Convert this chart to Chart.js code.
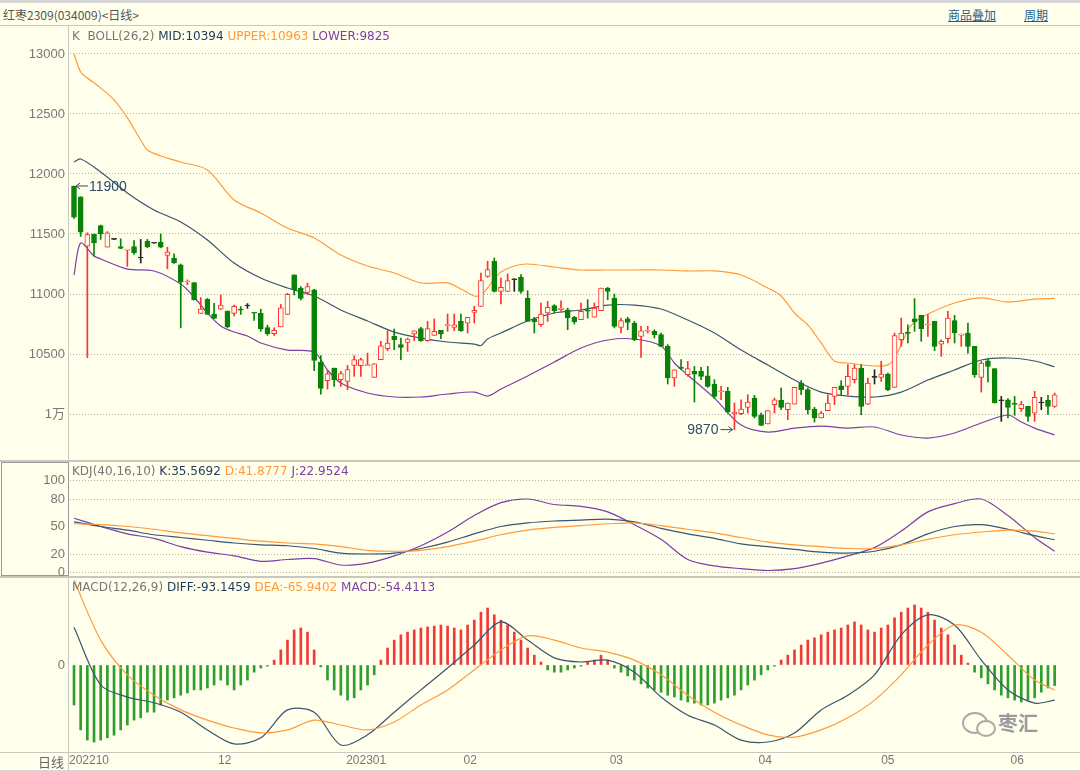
<!DOCTYPE html>
<html>
<head>
<meta charset="utf-8">
<title>红枣2309 日线</title>
<script src="https://cdn.jsdelivr.net/npm/chart.js@4.4.1/dist/chart.umd.min.js"></script>
<style>
  body { margin: 0; background: #ffffec; }
  #wrap { position: relative; width: 1080px; height: 772px; background: #ffffec; overflow: hidden;
          font-family: "DejaVu Sans", "Noto Sans CJK SC", sans-serif; }
  canvas { position: absolute; left: 0; }
  .ln { position: absolute; background: #c8c8c0; }
  .txt { position: absolute; font-size: 12px; white-space: nowrap; color: #777; }
  .link { color: #1f5f8f; text-decoration: underline; font-family: "Noto Sans CJK SC", sans-serif; }
  .mid { color: #1f3a5a; } .up { color: #ff9a3c; } .low { color: #7a3fa8; }
</style>
</head>
<body>
<div id="wrap">
  <div class="ln" style="left:0;top:0;width:1080px;height:3px;background:#d6d6d6"></div>
  <div class="ln" style="left:0;top:25px;width:1080px;height:1px"></div>
  <div class="ln" style="left:68px;top:26px;width:1px;height:746px"></div>
  <div class="ln" style="left:0;top:460px;width:1080px;height:2px"></div>
  <div class="ln" style="left:0;top:576px;width:1080px;height:2px"></div>
  <div class="ln" style="left:0;top:752px;width:1080px;height:1px"></div>
  <div class="ln" style="left:0;top:770px;width:1080px;height:2px;background:#d6d6d6"></div>
  <div style="position:absolute;left:1px;top:462px;width:66px;height:112px;border:1px solid #999"></div>

  <div class="txt" style="left:3px;top:6px;color:#555;font-family:'Noto Sans CJK SC',sans-serif">红枣2309(034009)&lt;日线&gt;</div>
  <div class="txt link" style="left:948px;top:6px">商品叠加</div>
  <div class="txt link" style="left:1024px;top:6px">周期</div>

  <canvas id="mainChart" style="top:26px" width="1080" height="434"></canvas>
  <canvas id="kdjChart" style="top:462px" width="1080" height="114"></canvas>
  <canvas id="macdChart" style="top:578px" width="1080" height="194"></canvas>

  <div class="txt" style="left:72px;top:29px">K&nbsp; BOLL(26,2) <span class="mid">MID:10394</span> <span class="up">UPPER:10963</span> <span class="low">LOWER:9825</span></div>
  <div class="txt" style="left:72px;top:464px">KDJ(40,16,10) <span class="mid">K:35.5692</span> <span class="up">D:41.8777</span> <span class="low">J:22.9524</span></div>
  <div class="txt" style="left:72px;top:580px">MACD(12,26,9) <span class="mid">DIFF:-93.1459</span> <span class="up">DEA:-65.9402</span> <span class="low">MACD:-54.4113</span></div>
  <div class="txt" style="left:38px;top:752px;font-size:13px;color:#666;font-family:'Noto Sans CJK SC',sans-serif">日线</div>

  <div style="position:absolute;left:962px;top:712px;width:22px;height:18px;border:2px solid #aaa;border-radius:50%"></div>
  <div style="position:absolute;left:976px;top:720px;width:16px;height:13px;border:2px solid #aaa;border-radius:50%;background:#ffffec"></div>
  <div class="txt" style="left:998px;top:708px;font-size:20px;font-weight:bold;color:#9a9a9a;text-shadow:0 0 2px #fff;font-family:'Noto Sans CJK SC',sans-serif">枣汇</div>
</div>

<script>
// daily candles, oldest first
const candleOpen = [11900,11810,11398,11500,11570,11390,11455,11395,11365,11395,11300,11440,11423,11432,11322,11300,11244,11100,11095,10838,
  10955,10832,10874,10858,10838,10875,10900,10846,10840,10720,10670,10726,10830,11160,11048,11014,11034,10432,10278,10383,
  10286,10272,10405,10403,10403,10306,10453,10545,10647,10578,10597,10667,10711,10611,10656,10697,10736,10722,10772,10758,
  10847,10897,11147,11272,11022,11022,11119,11139,10967,10794,10744,10842,10903,10869,10869,10806,10786,10864,10806,10861,
  11050,10967,10722,10794,10758,10647,10690,10689,10661,10564,10300,10389,10328,10355,10355,10319,10250,10186,10189,10000,
  10003,10056,10133,9994,9917,10078,10114,10036,10083,10258,10203,10042,9967,10028,10147,10236,10231,10286,10383,10083,
  10306,10306,10333,10222,10619,10678,10794,10822,10742,10772,10583,10628,10778,10658,10675,10564,10306,10444,10378,10111,
  10119,10086,10044,10064,10008,10092,10114,10064];
const candleHigh = [11900,11810,11510,11500,11575,11520,11458,11460,11370,11445,11455,11455,11425,11500,11390,11335,11250,11118,11095,10970,
  10963,10922,10992,10860,10908,10895,10920,10846,10874,10740,10718,10913,11006,11160,11062,11090,11040,10488,10362,10383,
  10355,10405,10486,10467,10508,10420,10605,10694,10708,10633,10633,10694,10722,10772,10792,10697,10833,10833,10833,10806,
  10897,11175,11272,11300,11133,11167,11128,11161,11028,10806,10925,10939,10911,10944,10883,10814,10925,10953,10925,11050,
  11055,11000,10800,10806,10772,10731,10731,10703,10675,10578,10369,10453,10439,10397,10389,10397,10286,10231,10222,10092,
  10119,10161,10156,10008,10028,10133,10217,10092,10222,10278,10217,10056,10022,10161,10222,10278,10411,10411,10411,10300,
  10369,10439,10342,10675,10800,10744,10961,10822,10828,10772,10619,10856,10822,10667,10758,10564,10439,10461,10378,10147,
  10128,10147,10106,10064,10189,10139,10156,10175];
const candleLow = [11630,11480,10470,11315,11455,11390,11452,11378,11230,11330,11258,11385,11421,11385,11210,11255,10718,11078,10950,10838,
  10830,10796,10870,10720,10818,10830,10880,10780,10690,10656,10656,10726,10830,10992,10950,10997,10362,10166,10208,10230,
  10230,10203,10314,10314,10403,10305,10453,10528,10536,10453,10522,10611,10606,10606,10656,10628,10689,10694,10689,10675,
  10758,10897,11139,11017,10917,11022,11022,11008,10772,10675,10731,10772,10842,10856,10703,10750,10786,10800,10806,10861,
  10953,10717,10675,10703,10611,10472,10675,10633,10564,10250,10231,10369,10314,10100,10286,10222,10128,10119,10008,9870,
  9994,10008,9967,9906,9917,10008,10036,9953,10083,10161,10000,9933,9967,10028,10078,10161,10161,10258,9994,10078,
  10250,10272,10194,10222,10564,10592,10689,10606,10647,10528,10481,10592,10592,10564,10508,10306,10183,10267,10092,9939,
  9967,9989,10022,9939,9939,10036,9994,10056];
const candleClose = [11640,11515,11496,11425,11500,11510,11455,11380,11370,11345,11300,11393,11423,11390,11350,11258,11098,11108,10950,10874,
  10830,10796,10908,10726,10897,10866,10900,10840,10712,10670,10698,10885,10998,11034,10964,11062,10446,10214,10334,10286,
  10336,10370,10453,10453,10411,10419,10569,10592,10620,10556,10625,10694,10611,10711,10689,10667,10739,10744,10694,10806,
  10864,11111,11203,11022,11056,11111,11119,11022,10772,10767,10833,10889,10861,10883,10800,10767,10856,10858,10883,11050,
  11022,10731,10778,10764,10619,10694,10697,10661,10564,10300,10369,10380,10378,10333,10314,10231,10147,10189,10017,10017,
  10042,10100,9980,9906,10028,10119,10056,10092,10222,10203,10036,9967,10008,10092,10222,10203,10314,10383,10064,10258,
  10306,10333,10203,10653,10675,10672,10767,10711,10744,10564,10606,10800,10675,10661,10564,10328,10425,10397,10092,10111,
  10056,10081,10083,9981,10139,10092,10064,10161];

// BOLL(26,2) at these candle positions
const upperIdx = [0,1,2,4,6,8,10,11,13,16,20,24,28,32,36,40,44,48,52,56,58,60,61,62,63,64,66,68,72,76,80,84,88,92,96,100,104,106,108,110,112,114,116,120,122,123,124,125,126,128,132,136,140,144,147];
const upperVal = [13000,12850,12800,12717,12617,12467,12283,12200,12150,12100,12033,11783,11675,11550,11467,11325,11233,11175,11092,11092,11042,10983,10992,11050,11125,11183,11233,11250,11225,11200,11200,11200,11200,11192,11192,11158,11050,10983,10842,10742,10592,10442,10425,10400,10410,10467,10575,10700,10767,10833,10925,10967,10933,10958,10963];
const midIdx = [0,1,4,8,12,16,20,24,28,32,36,40,44,48,52,56,60,61,62,64,68,72,76,80,84,88,92,96,100,104,108,112,116,120,124,128,132,136,140,144,147];
const midVal = [12100,12125,12017,11842,11700,11600,11450,11258,11133,11050,10983,10867,10775,10683,10633,10600,10583,10570,10625,10675,10775,10842,10867,10908,10908,10875,10783,10675,10533,10408,10283,10183,10150,10142,10183,10283,10367,10450,10467,10442,10394];
const lowerIdx = [0,1,3,4,8,12,16,18,20,22,24,26,28,32,36,38,40,44,48,52,56,60,62,64,68,72,76,80,84,88,90,92,96,100,104,108,112,116,120,124,128,132,136,140,142,144,147];
const lowerVal = [11158,11425,11317,11292,11208,11192,11083,10975,10842,10733,10683,10650,10592,10533,10517,10367,10258,10175,10142,10142,10167,10183,10150,10208,10317,10433,10550,10617,10625,10567,10425,10325,10133,9908,9850,9883,9900,9883,9892,9825,9800,9842,9925,9992,9933,9883,9825];

// KDJ(40,16,10) and MACD(12,26,9) lines, read every 4 candles
const lineIdx = [0,4,8,12,16,20,24,28,32,36,40,44,48,52,56,60,64,68,72,76,80,84,88,92,96,100,104,108,112,116,120,124,128,132,136,140,144,147];
const kdjK = [55,50,46,41,38,35,32,30,29,26,21,20,21,26,33,42,50,54,56,57,58,55,48,42,37,31,28,25,22,21,23,30,42,50,52,47,40,35.57];
const kdjD = [53,52,50,47,43,40,37,34,32,31,28,24,23,24,28,34,41,46,49,51,53,54,51,47,43,38,33,30,28,26,26,30,36,41,44,46,45,41.88];
const kdjJ = [59,50,42,37,28,22,18,12,14,15,8,10,18,29,44,62,76,80,74,72,66,52,36,14,7,4,2,4,10,18,27,45,66,75,80,62,38,22.95];
const macdDiff = [100,-53,-85,-100,-125,-172,-209,-193,-119,-125,-212,-185,-125,-66,-8,53,114,66,19,8,13,-19,-85,-133,-159,-199,-204,-180,-119,-80,-26,80,133,106,13,-66,-101,-93.15];
const macdDea = [225,66,-26,-80,-119,-146,-167,-180,-172,-146,-159,-172,-151,-106,-66,-13,40,77,66,45,34,13,-26,-80,-125,-159,-185,-191,-172,-140,-93,-26,53,106,87,26,-40,-65.94];
const macdHist = [-106,-172,-199,-204,-199,-193,-186,-172,-159,-146,-140,-125,-125,-106,-93,-87,-80,-74,-66,-66,
  -61,-53,-40,-53,-66,-53,-40,-19,-8,-3,13,40,66,93,98,87,40,-5,-40,-66,
  -80,-93,-87,-66,-53,-26,13,45,66,80,87,93,98,101,103,106,103,98,93,106,
  119,140,151,133,119,106,87,66,45,26,8,-13,-19,-19,-13,-8,-3,8,13,26,
  13,-8,-19,-29,-40,-50,-61,-66,-72,-80,-85,-93,-98,-101,-106,-106,-101,-93,-87,-80,
  -66,-53,-40,-26,-13,-3,13,26,40,53,66,72,80,87,93,98,106,114,106,93,
  87,98,106,125,140,151,159,151,140,119,98,80,53,26,5,-19,-34,-50,-66,-80,
  -87,-93,-98,-93,-87,-72,-61,-54.41];

const monthIdx = [2.25, 22.6, 43.8, 59.4, 81.3, 103.6, 122, 141.4];
const monthLbl = ['202210', '12', '202301', '02', '03', '04', '05', '06'];
const priceTicks = [10000, 10500, 11000, 11500, 12000, 12500, 13000];
const kdjTicks = [0, 20, 50, 80, 100];

const bg = '#ffffec';
const upColor = '#ff3030', downColor = '#0a820a', flatColor = '#222222';
const midColor = '#3a5570', upperColor = '#ff9a3c', lowerColor = '#7a3fa8';

Chart.defaults.font.family = 'Liberation Sans, Noto Sans CJK SC, sans-serif';
Chart.defaults.animation = false;

const candleColor = candleOpen.map((o, i) => candleClose[i] > o ? upColor : candleClose[i] < o ? downColor : flatColor);
const bodyFill = candleOpen.map((o, i) => candleClose[i] > o ? bg : candleColor[i]);
const pts = (idx, vals) => idx.map((x, i) => ({ x, y: vals[i] }));

function xAxis(show) {
  return {
    type: 'linear', min: -0.6, max: 150.8, display: show, position: 'bottom', offset: false,
    afterFit: s => { s.paddingLeft = 0; s.paddingRight = 0; if (show) s.height = 20; },
    afterBuildTicks: s => { s.ticks = monthIdx.map(v => ({ value: v })); },
    grid: { display: false, drawTicks: false, offset: false },
    border: { display: false },
    ticks: { autoSkip: false, maxRotation: 0, padding: 1, color: '#777', font: { size: 12 },
             callback: (v, i) => monthLbl[i] }
  };
}

function yAxis(min, max, ticks, label, gridOn) {
  return {
    position: 'left', min, max,
    afterFit: s => { s.width = 70; s.paddingTop = 0; s.paddingBottom = 0; },
    afterBuildTicks: s => { s.ticks = ticks.map(v => ({ value: v })); },
    grid: { drawTicks: false, color: gridOn || '#b4b4aa' },
    border: { display: false, dash: [1, 2] },
    ticks: { padding: 5, color: '#777', font: { size: 13 }, callback: label }
  };
}

function lineSet(data, color, yID) {
  return { type: 'line', data, borderColor: color, borderWidth: 1.2, pointRadius: 0,
           tension: 0.3, yAxisID: yID, order: 2 };
}

const baseOpts = {
  responsive: false,
  layout: { padding: 0 },
  plugins: { legend: { display: false }, tooltip: { enabled: false } },
  events: []
};

// 11900 / 9870 marks on the extreme candles
const extremeMarks = {
  id: 'extremeMarks',
  afterDatasetsDraw(chart) {
    const { ctx, scales: { x, y } } = chart;
    const hi = Math.max(...candleHigh), lo = Math.min(...candleLow);
    const hx = x.getPixelForValue(candleHigh.indexOf(hi)), hy = y.getPixelForValue(hi);
    const lx = x.getPixelForValue(candleLow.indexOf(lo)), ly = y.getPixelForValue(lo);
    ctx.save();
    ctx.strokeStyle = ctx.fillStyle = '#2f4c68';
    ctx.lineWidth = 1;
    ctx.font = '14px Liberation Sans';
    ctx.textBaseline = 'middle';
    // arrow pointing left to the high
    ctx.beginPath();
    ctx.moveTo(hx + 2, hy); ctx.lineTo(hx + 14, hy);
    ctx.moveTo(hx + 2, hy); ctx.lineTo(hx + 6, hy - 3);
    ctx.moveTo(hx + 2, hy); ctx.lineTo(hx + 6, hy + 3);
    ctx.stroke();
    ctx.textAlign = 'left';
    ctx.fillText(String(hi), hx + 15, hy + 1);
    // arrow pointing right to the low
    ctx.beginPath();
    ctx.moveTo(lx - 14, ly); ctx.lineTo(lx - 2, ly);
    ctx.moveTo(lx - 2, ly); ctx.lineTo(lx - 6, ly - 3);
    ctx.moveTo(lx - 2, ly); ctx.lineTo(lx - 6, ly + 3);
    ctx.stroke();
    ctx.textAlign = 'right';
    ctx.fillText(String(lo), lx - 16, ly + 1);
    ctx.restore();
  }
};

new Chart(document.getElementById('mainChart'), {
  type: 'bar',
  data: {
    datasets: [
      { type: 'bar', data: candleOpen.map((o, i) => ({ x: i, y: [o, candleClose[i]] })),
        backgroundColor: bodyFill, borderColor: candleColor, borderWidth: 1, borderSkipped: false,
        barThickness: 5, minBarLength: 1, grouped: false, yAxisID: 'y', order: 0 },
      { type: 'bar', data: candleLow.map((l, i) => ({ x: i, y: [l, candleHigh[i]] })),
        backgroundColor: candleColor, borderWidth: 0, barThickness: 1, grouped: false, yAxisID: 'y', order: 1 },
      lineSet(pts(upperIdx, upperVal), upperColor, 'y'),
      lineSet(pts(midIdx, midVal), midColor, 'y'),
      lineSet(pts(lowerIdx, lowerVal), lowerColor, 'y')
    ]
  },
  options: {
    ...baseOpts,
    scales: {
      x: xAxis(false),
      y: yAxis(9617, 13233, priceTicks, v => v === 10000 ? '1万' : String(v))
    }
  },
  plugins: [extremeMarks]
});

new Chart(document.getElementById('kdjChart'), {
  type: 'line',
  data: {
    datasets: [
      lineSet(pts(lineIdx, kdjD), upperColor, 'y'),
      lineSet(pts(lineIdx, kdjK), midColor, 'y'),
      lineSet(pts(lineIdx, kdjJ), lowerColor, 'y')
    ]
  },
  options: {
    ...baseOpts,
    scales: {
      x: xAxis(false),
      y: yAxis(-4, 120.4, kdjTicks, v => String(v),
               c => c.tick && c.tick.value === 50 ? 'transparent' : '#b4b4aa')
    }
  }
});

new Chart(document.getElementById('macdChart'), {
  type: 'bar',
  data: {
    datasets: [
      { type: 'bar', data: macdHist.map((v, i) => ({ x: i, y: v })),
        backgroundColor: macdHist.map(v => v >= 0 ? '#f03a3a' : '#2e9e2e'),
        barThickness: 2, grouped: false, yAxisID: 'y', order: 3 },
      lineSet(pts(lineIdx, macdDea), upperColor, 'y'),
      lineSet(pts(lineIdx, macdDiff), midColor, 'y')
    ]
  },
  options: {
    ...baseOpts,
    scales: {
      x: xAxis(true),
      y: yAxis(-230.5, 230.5, [0], v => String(v), 'transparent')
    }
  }
});
</script>
</body>
</html>
